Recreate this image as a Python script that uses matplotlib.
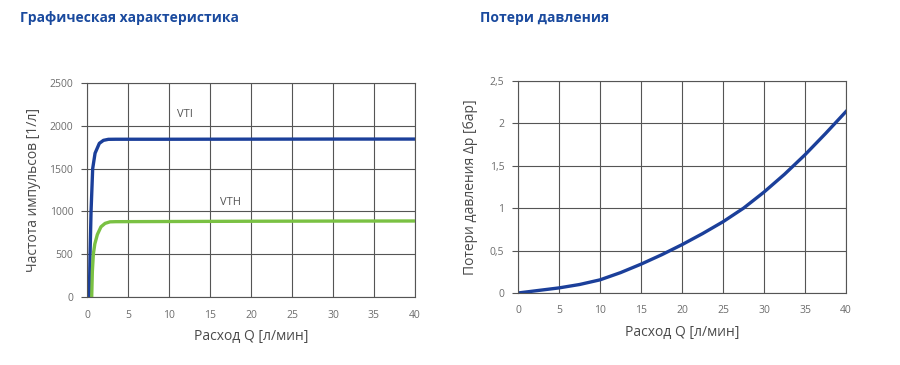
import numpy as np
import matplotlib.pyplot as plt

plt.rcParams['font.family'] = ['Open Sans', 'DejaVu Sans']

# pulse frequency curves
vti_q = [0.28, 0.37, 0.49, 0.69, 0.98, 1.5, 2.0, 2.6, 3.5, 10, 20, 30, 40]
vti_f = [0, 500, 1000, 1500, 1680, 1795, 1830, 1842, 1843, 1843, 1844, 1845, 1845]
vth_q = [0.57, 0.65, 0.77, 0.95, 1.26, 1.7, 2.2, 2.8, 3.5, 10, 20, 30, 40]
vth_f = [0, 300, 500, 620, 730, 820, 860, 878, 880, 882, 885, 887, 888]

# pressure loss
dp_q = [0, 2.5, 5, 7.5, 10, 12.5, 15, 17.5, 20, 22.5, 25, 27.5, 30, 32.5, 35, 37.5, 40]
dp_v = [0, 0.03, 0.06, 0.1, 0.155, 0.24, 0.34, 0.45, 0.57, 0.7, 0.84, 1.0, 1.19, 1.4, 1.63, 1.88, 2.14]

blue = '#1b3f9a'
green = '#7ac143'
grid_c = '#555555'
tick_c = '#6d6d6d'
label_c = '#4a4a4a'
title_c = '#1a4a9e'

fig = plt.figure(figsize=(9, 3.65), dpi=100)
ax1 = fig.add_axes([0.0967, 0.1863, 0.3644, 0.5863])
ax2 = fig.add_axes([0.5756, 0.1973, 0.3644, 0.5808])


def style(ax, yticks, ylabels):
    ax.set_xlim(0, 40)
    ax.set_xticks(range(0, 41, 5))
    ax.set_yticks(yticks)
    ax.set_yticklabels(ylabels)
    ax.grid(True, color=grid_c, linewidth=0.8)
    ax.set_axisbelow(True)
    for s in ax.spines.values():
        s.set_color(grid_c)
        s.set_linewidth(0.8)
    ax.tick_params(axis='x', length=0, pad=9, labelsize=7.5, colors=tick_c)
    ax.tick_params(axis='y', length=4, width=0.8, color=grid_c, pad=6,
                   labelsize=7.5, labelcolor=tick_c)


ax1.plot(vti_q, vti_f, color=blue, linewidth=2.4, solid_capstyle='butt',
         solid_joinstyle='round')
ax1.plot(vth_q, vth_f, color=green, linewidth=2.4, solid_capstyle='butt',
         solid_joinstyle='round')
ax1.set_ylim(0, 2500)
style(ax1, range(0, 2501, 500), [str(v) for v in range(0, 2501, 500)])
ax1.text(12, 2130, 'VTI', fontsize=8, color='#555555', ha='center', va='center')
ax1.text(17.5, 1100, 'VTH', fontsize=8, color='#555555', ha='center', va='center')
ax1.set_xlabel('Расход Q [л/мин]', fontsize=10, color=label_c, labelpad=6)
ax1.set_ylabel('Частота импульсов [1/л]', fontsize=10, color=label_c, labelpad=6)

ax2.plot(dp_q, dp_v, color=blue, linewidth=2.4, solid_joinstyle='round')
ax2.set_ylim(0, 2.5)
style(ax2, [0, 0.5, 1, 1.5, 2, 2.5], ['0', '0,5', '1', '1,5', '2', '2,5'])
ax2.set_xlabel('Расход Q [л/мин]', fontsize=10, color=label_c, labelpad=6)
ax2.set_ylabel('Потери давления Δp [бар]', fontsize=10, color=label_c, labelpad=8)

fig.text(20 / 900, 1 - 18 / 365, 'Графическая характеристика', fontsize=10,
         fontweight='bold', color=title_c, ha='left', va='center')
fig.text(480 / 900, 1 - 18 / 365, 'Потери давления', fontsize=10,
         fontweight='bold', color=title_c, ha='left', va='center')

fig.savefig('out.png', dpi=100, facecolor='white')
